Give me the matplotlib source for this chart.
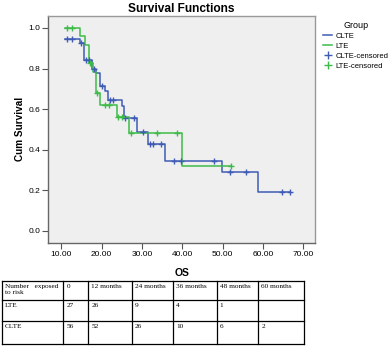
import matplotlib
matplotlib.use("Agg")
import matplotlib.pyplot as plt
from matplotlib.lines import Line2D

plt.rcParams['font.family'] = ['Liberation Sans', 'DejaVu Sans']

# LTE group (green)
lte_time = [10.9, 14.6, 15.9, 16.9, 17.8, 18.7, 19.6, 23.7, 26.7, 39.9, 52.0]
lte_surv = [1.0, 0.962, 0.916, 0.826, 0.785, 0.678, 0.621, 0.560, 0.481, 0.321, 0.321]
lte_cens_time = [11.3, 12.6, 17.2, 18.9, 20.9, 21.7, 24.0, 25.0, 27.2, 33.7, 38.8, 52.0]
lte_cens_surv = [1.0, 1.0, 0.826, 0.678, 0.621, 0.621, 0.560, 0.560, 0.481, 0.481, 0.481, 0.321]

# CLTE group (blue)
clte_time = [10.9, 14.6, 15.6, 17.6, 18.5, 19.6, 20.9, 21.5, 25.0, 25.6, 28.7,
             31.6, 35.8, 49.8, 58.9, 66.8]
clte_surv = [0.946, 0.927, 0.842, 0.80, 0.78, 0.714, 0.691, 0.645, 0.615, 0.556, 0.486,
             0.427, 0.346, 0.289, 0.192, 0.192]
clte_cens_time = [11.3, 12.6, 14.9, 16.0, 16.9, 18.0, 20.0, 22.1, 22.9, 25.8, 27.9,
                  30.3, 32.0, 32.8, 34.6, 37.9, 39.8, 47.9, 51.9, 55.8, 64.8, 66.8]
clte_cens_surv = [0.946, 0.946, 0.927, 0.842, 0.842, 0.80, 0.714, 0.645, 0.645, 0.556, 0.556,
                  0.486, 0.427, 0.427, 0.427, 0.346, 0.346, 0.346, 0.289, 0.289, 0.192, 0.192]

# number at risk table
table_header = ["Number   exposed\nto risk", "0", "12 months", "24 months",
                "36 months", "48 months", "60 months"]
lte_risk = ["LTE", "27", "26", "9", "4", "1", ""]
clte_risk = ["CLTE", "56", "52", "26", "10", "6", "2"]

xticks = [10, 20, 30, 40, 50, 60, 70]
yticks = [0.0, 0.2, 0.4, 0.6, 0.8, 1.0]

blue = "#3f5cb5"
green = "#3dbb47"

fig = plt.figure(figsize=(3.9, 3.47), dpi=100)
ax = fig.add_axes([0.124, 0.3006, 0.684, 0.654])
ax.set_facecolor("#efefef")

ax.step(clte_time, clte_surv, where="post", color=blue, lw=1.1)
ax.step(lte_time, lte_surv, where="post", color=green, lw=1.1)
ax.plot(clte_cens_time, clte_cens_surv, "+", color=blue, ms=5, mew=1.0)
ax.plot(lte_cens_time, lte_cens_surv, "+", color=green, ms=5, mew=1.0)

ax.set_xlim(6.77, 72.95)
ax.set_ylim(-0.058, 1.06)
ax.set_xticks(xticks)
ax.set_xticklabels(["%.2f" % v for v in xticks])
ax.set_yticks(yticks)
ax.set_yticklabels(["%.1f" % v for v in yticks])
ax.tick_params(labelsize=6, length=4, width=0.8, color="#555555", pad=2)
for s in ax.spines.values():
    s.set_color("#999999")
    s.set_linewidth(1.0)
ax.spines["left"].set_color("#666666")
ax.spines["bottom"].set_color("#666666")

ax.set_title("Survival Functions", fontsize=8.6, fontweight="bold", pad=3)
ax.set_ylabel("Cum Survival", fontsize=7.2, fontweight="bold", labelpad=2)
ax.set_xlabel("OS", fontsize=7.5, fontweight="bold", labelpad=7)

handles = [Line2D([], [], color=blue, lw=1.1),
           Line2D([], [], color=green, lw=1.1),
           Line2D([], [], color=blue, marker="+", ls="none", ms=6),
           Line2D([], [], color=green, marker="+", ls="none", ms=6)]
fig.legend(handles, ["CLTE", "LTE", "CLTE-censored", "LTE-censored"],
           title="Group", loc="upper left", bbox_to_anchor=(0.815, 0.955),
           frameon=False, fontsize=5.5, title_fontsize=6.5,
           handlelength=1.2, handletextpad=0.4, labelspacing=0.35, borderpad=0.2)

# number at risk table, drawn in pixel-like coordinates
tax = fig.add_axes([0, 0, 1, 1])
tax.set_xlim(0, 390)
tax.set_ylim(347, 0)
tax.axis("off")
col_edges = [1.7, 63.3, 88.3, 131.7, 173.3, 216.7, 258.3, 304]
row_edges = [280.7, 300, 320.7, 344]
for xe in col_edges:
    tax.plot([xe, xe], [row_edges[0], row_edges[-1]], color="black", lw=0.9)
for ye in row_edges:
    tax.plot([col_edges[0], col_edges[-1]], [ye, ye], color="black", lw=0.9)
serif = ["Liberation Serif", "DejaVu Serif"]
for r, row in enumerate([table_header, lte_risk, clte_risk]):
    for c, txt in enumerate(row):
        tax.text(col_edges[c] + 3, row_edges[r] + 3, txt, fontsize=5.2,
                 family=serif, va="top", ha="left", linespacing=1.45)

fig.savefig("out.png", dpi=100)
